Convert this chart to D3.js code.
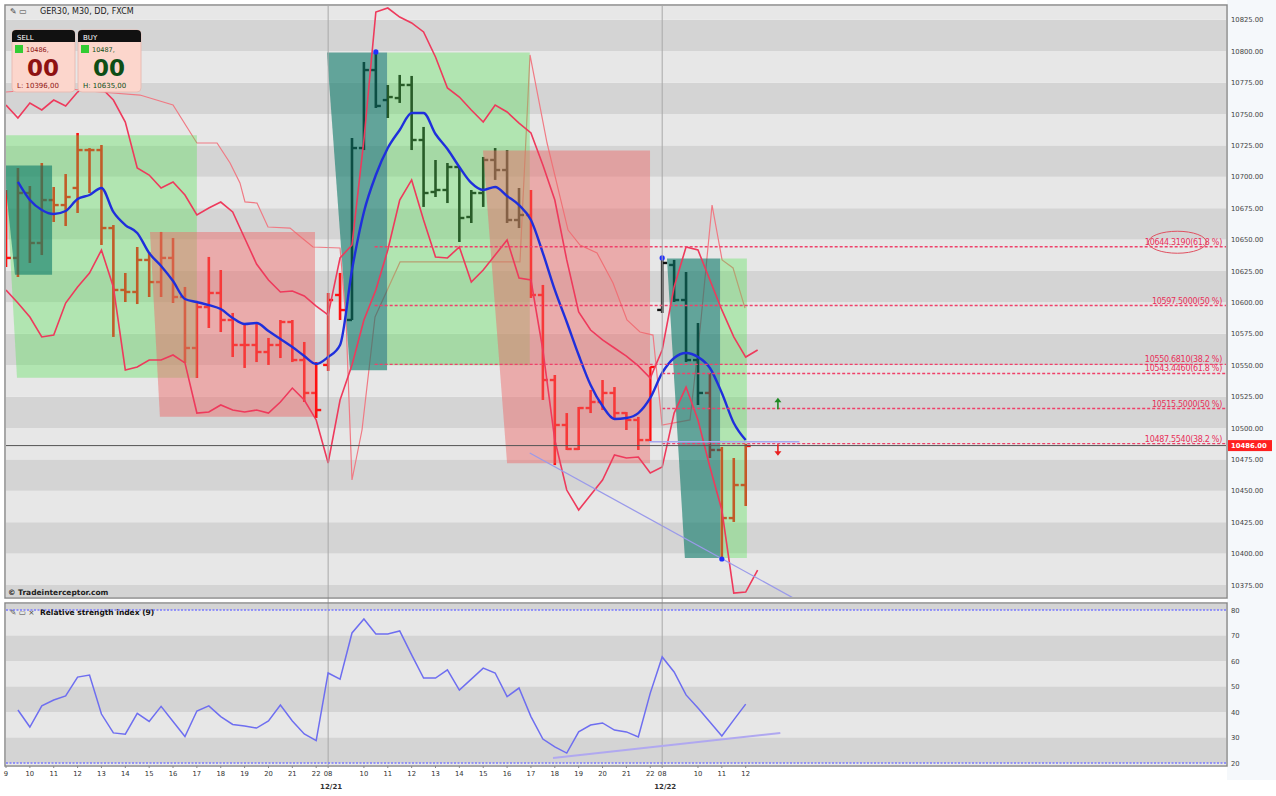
<!DOCTYPE html>
<html><head><meta charset="utf-8">
<script src="https://cdn.jsdelivr.net/npm/d3@7"></script>
<style>body{margin:0;background:#fff;} svg{display:block;font-family:"DejaVu Sans",sans-serif;}</style>
</head><body><svg id="c" width="1276" height="796"></svg>
<script>
// ---------- DATA ----------
const tickIdx   = [0,2,4,6,8,10,12,14,16,18,20,22,24,26,27,30,32,34,36,38,40,42,44,46,48,50,52,54,55,58,60,62];
const tickLabels= ["9","10","11","12","13","14","15","16","17","18","19","20","21","22","08","10","11","12","13","14","15","16","17","18","19","20","21","22","08","10","11","12"];
const dateIdx = [27,55];
const dateLabels = ["12/21","12/22"];
const priceTicks = [10375,10400,10425,10450,10475,10500,10525,10550,10575,10600,10625,10650,10675,10700,10725,10750,10775,10800,10825];
const rsiTicks = [20,30,40,50,60,70,80];

const openP  = [10653.7,10635.4,10687.1,10647.3,10681.5,10677.5,10691.1,10721.3,10721.3,10659.2,10609.9,10608.3,10633.8,10616.2,10635.4,10604.3,10563.7,10596.3,10607.5,10586.0,10566.1,10566.1,10560.5,10566.1,10584.4,10554.1,10527.9,10550.2,10605.9,10586.0,10722.9,10785.0,10761.1,10762.7,10773.1,10729.3,10687.9,10689.5,10707.8,10668.0,10687.1,10713.4,10705.4,10665.6,10669.6,10605.9,10538.2,10502.4,10483.3,10515.9,10520.7,10527.9,10511.9,10506.4,10490.4,10594.0,10629.8,10601.9,10554.1,10527.9,10482.5,10428.3,10454.6];
const highP  = [10689.5,10707.0,10692.7,10711.0,10691.9,10702.2,10734.9,10722.9,10725.3,10661.6,10623.4,10644.1,10640.1,10656.1,10651.3,10612.3,10599.5,10636.2,10625.8,10591.6,10583.6,10584.4,10571.7,10586.0,10586.0,10568.5,10552.5,10607.5,10623.4,10730.9,10791.4,10799.4,10773.1,10781.1,10780.3,10739.7,10713.4,10711.0,10707.8,10689.5,10715.8,10722.9,10721.3,10691.1,10689.5,10613.9,10542.2,10511.9,10516.7,10530.3,10538.2,10532.6,10512.7,10508.8,10548.6,10635.4,10633.8,10624.2,10583.6,10543.8,10484.9,10476.1,10487.3];
const lowP   = [10628.2,10620.2,10631.4,10637.7,10664.0,10660.8,10671.2,10687.1,10645.7,10572.5,10600.3,10598.7,10604.3,10604.3,10599.5,10551.8,10539.8,10579.6,10576.4,10556.5,10547.8,10552.5,10550.2,10555.7,10552.5,10520.7,10508.0,10545.4,10586.0,10586.0,10721.3,10754.8,10746.8,10758.8,10721.3,10676.0,10683.9,10679.1,10648.1,10663.2,10676.0,10697.5,10663.2,10659.2,10603.5,10522.3,10470.5,10482.5,10482.5,10511.9,10514.3,10506.4,10498.4,10482.5,10488.9,10591.6,10600.3,10552.5,10518.3,10476.1,10395.7,10425.2,10437.9];
const closeP = [10635.4,10687.1,10647.3,10681.5,10677.5,10683.9,10721.3,10721.3,10659.2,10609.9,10608.3,10633.8,10616.2,10635.4,10604.3,10563.7,10596.3,10607.5,10586.0,10566.1,10566.1,10560.5,10566.1,10584.4,10554.1,10527.9,10514.3,10601.9,10593.9,10722.9,10785.0,10756.4,10763.5,10773.1,10729.3,10687.1,10689.5,10707.8,10667.2,10687.1,10713.4,10705.4,10665.6,10669.6,10605.9,10538.2,10502.4,10483.3,10515.9,10520.7,10527.9,10511.9,10506.4,10490.4,10548.6,10631.4,10601.9,10554.1,10527.9,10482.5,10428.3,10454.6,10485.7];
const barTone = ["r","r","r","r","r","r","r","r","r","r","r","r","r","r","r","r","r","r","r","r","r","r","r","r","r","r","r","r","r","k","k","k","k","k","k","k","k","k","k","k","k","k","k","k","r","r","r","r","r","r","r","r","r","r","r","k","k","k","k","r","r","r","r"];

// moving average, k = 1..62
const maVals = [10695.9,10681.5,10673.6,10670.4,10672.8,10682.3,10685.5,10691.1,10672.0,10661.6,10655.3,10639.3,10629.0,10617.0,10602.7,10600.3,10597.9,10594.7,10587.6,10582.8,10583.6,10577.2,10570.9,10564.5,10557.3,10551.0,10556.5,10566.1,10625.8,10672.0,10701.4,10722.9,10737.3,10750.8,10750.8,10734.1,10722.1,10707.8,10695.1,10689.5,10691.9,10684.7,10677.5,10665.6,10639.3,10609.9,10584.4,10558.1,10534.2,10517.5,10507.2,10508.0,10511.9,10523.9,10543.8,10555.7,10559.7,10556.5,10547.8,10527.9,10504.0,10490.4];
// envelope bands, k = 0..63
const upperBand = [10757.2,10746.8,10758.8,10753.2,10761.1,10756.4,10767.5,10773.1,10770.7,10761.1,10743.6,10707.0,10701.4,10691.1,10695.9,10685.5,10669.6,10675.2,10679.9,10672.0,10651.3,10630.6,10617.8,10608.3,10609.1,10605.1,10597.1,10590.0,10635.4,10645.7,10729.3,10831.2,10834.4,10827.2,10822.5,10815.3,10795.4,10770.7,10763.5,10753.2,10743.6,10757.2,10751.6,10742.8,10734.9,10709.4,10681.5,10633.8,10592.4,10578.0,10570.1,10563.7,10557.3,10549.4,10539.8,10562.1,10612.3,10644.1,10641.7,10617.8,10594.0,10572.5,10556.5,10562.1];
const lowerBand = [10609.9,10599.5,10588.4,10572.5,10574.1,10599.5,10612.3,10623.4,10641.7,10612.3,10546.2,10548.6,10554.1,10554.1,10558.1,10551.8,10511.9,10512.7,10518.3,10514.3,10512.7,10514.3,10511.9,10520.7,10531.8,10522.3,10506.4,10472.1,10522.3,10550.2,10586.0,10609.9,10641.7,10681.5,10697.5,10665.6,10636.2,10635.4,10644.1,10616.2,10625.8,10637.7,10649.7,10619.4,10617.8,10562.1,10490.4,10450.6,10434.7,10446.7,10458.6,10478.5,10476.1,10476.9,10464.2,10468.9,10511.9,10532.6,10506.4,10468.9,10434.7,10368.6,10369.4,10386.9];
// thin lagging line (bar index, price)
const thinK = [0,4.53,7.88,11.23,14.0,16.0,17.69,18.78,19.61,20.03,21.04,21.96,23.81,24.81,25.73,28.0,28.5,29.0,29.84,30.93,33.03,43.08,43.92,45.35,47.11,48.11,49.54,50.88,52.05,53.14,54.23,54.99,57.33,58.17,59.18,60.02,60.94,61.94];
const thinP = [10767.5,10770.7,10767.5,10765.1,10757.2,10726.9,10726.9,10711.0,10695.1,10680.0,10679.1,10660.0,10659.2,10651.3,10644.1,10643.3,10586.0,10458.6,10498.4,10588.4,10632.2,10632.2,10797.0,10726.9,10657.6,10645.7,10639.3,10615.4,10586.0,10576.4,10574.0,10502.4,10506.4,10578.0,10677.5,10633.8,10627.4,10595.5];
// RSI(9), k = 1..62
const rsiVals = [40.8,34.1,42.4,44.7,46.3,53.7,54.5,39.2,31.8,31.3,39.5,36.3,42.2,36.3,30.4,40.4,42.4,38.2,35.1,34.5,33.7,36.5,42.7,36.5,31.4,28.8,55.3,52.9,71,76.5,70.6,70.6,71.8,62.4,53.3,53.3,56.5,48.6,52.9,57.2,55.3,46,49.4,38.2,29.4,26.3,23.9,32.2,34.9,35.7,32.9,32.2,30.2,47.4,61.6,55.7,46.7,41.6,36.1,30.6,36.9,43.1];
// zones
const zoneType = ["green","green","green","teal","teal","teal","red","red"];
const zoneK0 = [-0.2,31.94,59.85,-0.2,26.9,55.4,12.07,39.98];
const zoneK1 = [16.0,43.9,62.1,3.86,31.94,59.85,25.9,53.98];
const zoneKB = [0.92,31.94,59.85,0.75,28.83,56.9,12.9,42.0];
const zoneTop= [10733,10799,10635,10709,10799,10635,10656,10721];
const zoneBot= [10540,10550,10396.5,10622,10546,10396.5,10509,10472];
// fibonacci levels
const fibLevels = [10644.319,10597.5,10550.681,10543.446,10515.5,10487.554];
const fibLabels = ["10644.3190(61.8 %)","10597.5000(50 %)","10550.6810(38.2 %)","10543.4460(61.8 %)","10515.5000(50 %)","10487.5540(38.2 %)"];
const fibStartK = [30.9,30.9,30.9,55,55,55];
const lastPrice = 10486;
const dotK = [31,55,60];
const dotP = [10799.4,10635.4,10395.7];
const trendK = [43.9,66.0], trendP = [10480.1,10364.6];
const rsiTrendK = [45.85,64.9], rsiTrendV = [21.96,31.8];
const refLineK = [53.9,66.5], refLineP = 10489;
const arrowK = 64.7, arrowUpP = 10519, arrowDnP = 10483;

// ---------- LAYOUT ----------
const svg = d3.select("#c");
const L = 6, R = 1226, T = 6, B = 597, RT = 604, RB = 765;
const x = d3.scaleLinear().domain([0,62]).range([6,745.7]);
const y = d3.scaleLinear().domain([10375,10825]).range([585,19.8]);
const yr = d3.scaleLinear().domain([20,80]).range([763,610]);

svg.append("rect").attr("width",1276).attr("height",796).attr("fill","#fff");
svg.append("rect").attr("x",1227).attr("y",0).attr("width",49).attr("height",780).attr("fill","#f5f8fb");

const defs = svg.append("defs");
defs.append("clipPath").attr("id","cm").append("rect").attr("x",L).attr("y",T).attr("width",R-L).attr("height",B-T);
defs.append("clipPath").attr("id","cr").append("rect").attr("x",L).attr("y",RT).attr("width",R-L).attr("height",RB-RT);

const gm = svg.append("g").attr("clip-path","url(#cm)");
// stripes main
const stripeLv = d3.range(10350,10851,25);
stripeLv.forEach(p=>{
  const dark = (((p-10500)/25)%2+2)%2===0;
  gm.append("rect").attr("x",L).attr("width",R-L).attr("y",y(p+25)).attr("height",y(p)-y(p+25))
    .attr("fill",dark?"#d4d4d4":"#e7e7e7");
});
// separators
dateIdx.forEach(k=>{
  svg.append("line").attr("x1",x(k)).attr("x2",x(k)).attr("y1",T).attr("y2",RB).attr("stroke","#a8a8a8").attr("stroke-width",1);
});
// thin lagging line
gm.append("path").datum(thinK.map((k,i)=>[k,thinP[i]]))
  .attr("d",d3.line().x(d=>x(d[0])).y(d=>y(d[1])))
  .attr("fill","none").attr("stroke","#f07a84").attr("stroke-width",1.2);
// bars
const bars = gm.append("g");
openP.forEach((o,k)=>{
  const c = barTone[k]==="r" ? "#ff1010" : "#111";
  const xx = x(k);
  bars.append("line").attr("x1",xx).attr("x2",xx).attr("y1",y(highP[k])).attr("y2",y(lowP[k])).attr("stroke",c).attr("stroke-width",2.6);
  bars.append("line").attr("x1",xx-5).attr("x2",xx).attr("y1",y(o)).attr("y2",y(o)).attr("stroke",c).attr("stroke-width",2.4);
  bars.append("line").attr("x1",xx).attr("x2",xx+5).attr("y1",y(closeP[k])).attr("y2",y(closeP[k])).attr("stroke",c).attr("stroke-width",2.4);
});
// zones
const zoneFill = {green:["#54e254",0.36],teal:["#0a7868",0.6],red:["#ee6969",0.47]};
zoneType.forEach((t,i)=>{
  const pts = [[x(zoneK0[i]),y(zoneTop[i])],[x(zoneK1[i]),y(zoneTop[i])],[x(zoneK1[i]),y(zoneBot[i])],[x(zoneKB[i]),y(zoneBot[i])]];
  gm.append("path").attr("d","M"+pts.join("L")+"Z").attr("fill",zoneFill[t][0]).attr("fill-opacity",zoneFill[t][1]);
});
// bands
const bandLine = d3.line().x((d,i)=>x(i)).y(d=>y(d));
gm.append("path").datum(upperBand).attr("d",bandLine).attr("fill","none").attr("stroke","#ee3a5c").attr("stroke-width",1.6);
gm.append("path").datum(lowerBand).attr("d",bandLine).attr("fill","none").attr("stroke","#ee3a5c").attr("stroke-width",1.6);
// MA
gm.append("path").datum(maVals).attr("d",d3.line().x((d,i)=>x(i+1)).y(d=>y(d)).curve(d3.curveMonotoneX))
  .attr("fill","none").attr("stroke","#1f2fdc").attr("stroke-width",2.4);
// current price line
gm.append("line").attr("x1",L).attr("x2",R).attr("y1",y(lastPrice)).attr("y2",y(lastPrice)).attr("stroke","#555").attr("stroke-width",1);
// lavender reference
gm.append("line").attr("x1",x(refLineK[0])).attr("x2",x(refLineK[1])).attr("y1",y(refLineP)).attr("y2",y(refLineP)).attr("stroke","#a8a8f0").attr("stroke-width",1.5);
// trend line
gm.append("line").attr("x1",x(trendK[0])).attr("x2",x(trendK[1])).attr("y1",y(trendP[0])).attr("y2",y(trendP[1])).attr("stroke","#9a9aea").attr("stroke-width",1.3);
// fib lines
fibLevels.forEach((p,i)=>{
  gm.append("line").attr("x1",x(fibStartK[i])).attr("x2",R).attr("y1",y(p)).attr("y2",y(p))
    .attr("stroke","#f0406a").attr("stroke-width",1.4).attr("stroke-dasharray","3,2");
  const t = gm.append("text").attr("x",1222).attr("y",y(p)-2).attr("text-anchor","end")
    .attr("font-size",8).attr("fill","#e8305a").attr("letter-spacing",-0.3).text(fibLabels[i]);
  if(i===0){
    const bb = t.node().getBBox();
    gm.append("ellipse").attr("cx",bb.x+bb.width*0.42).attr("cy",bb.y+bb.height/2).attr("rx",29).attr("ry",11)
      .attr("fill","none").attr("stroke","#e05060").attr("stroke-width",1);
  }
});
// dots
dotK.forEach((k,i)=>gm.append("circle").attr("cx",x(k)).attr("cy",y(dotP[i])).attr("r",2.6).attr("fill","#2030ff"));
// arrows
function arrow(px,py,dir,col){
  const g = gm.append("g").attr("transform",`translate(${px},${py})`);
  g.append("line").attr("x1",0).attr("x2",0).attr("y1",-5*dir).attr("y2",5*dir).attr("stroke",col).attr("stroke-width",1.6);
  g.append("path").attr("d",`M-3.5,${-2*dir}L0,${-6.5*dir}L3.5,${-2*dir}Z`).attr("fill",col);
}
arrow(x(arrowK),y(arrowUpP),1,"#1d8a22");
arrow(x(arrowK),y(arrowDnP),-1,"#e82020");

// title & watermark
svg.append("text").attr("x",10).attr("y",14).attr("font-size",8).attr("fill","#444").text("✎ ▭");
svg.append("text").attr("x",40).attr("y",14).attr("font-size",8).attr("fill","#222").text("GER30, M30, DD, FXCM");
svg.append("text").attr("x",8).attr("y",595).attr("font-size",7.5).attr("font-weight","bold").attr("fill","#222").text("© Tradeinterceptor.com");

// buy/sell widget
function widget(x0,title,small,big,bigCol,foot){
  const g = svg.append("g");
  g.append("rect").attr("x",x0).attr("y",30).attr("width",63).attr("height",62).attr("rx",4).attr("fill","#fcd6cc").attr("stroke","#e8bcb4");
  g.append("path").attr("d",`M${x0},42V34a4,4 0 0 1 4,-4H${x0+59}a4,4 0 0 1 4,4V42Z`).attr("fill","#111");
  g.append("text").attr("x",x0+5).attr("y",39.5).attr("font-size",7).attr("fill","#fff").text(title);
  g.append("rect").attr("x",x0+3).attr("y",45).attr("width",8).attr("height",8).attr("fill","#33cc33");
  g.append("text").attr("x",x0+14).attr("y",51.5).attr("font-size",6.5).attr("fill",bigCol).text(small);
  g.append("text").attr("x",x0+31).attr("y",76).attr("text-anchor","middle").attr("font-size",23).attr("font-weight","bold").attr("fill",bigCol).text(big);
  g.append("text").attr("x",x0+5).attr("y",88).attr("font-size",7).attr("fill",bigCol).text(foot);
}
widget(12,"SELL","10486,","00","#8e1212","L: 10396,00");
widget(78,"BUY","10487,","00","#0e4e16","H: 10635,00");

// main borders
svg.append("rect").attr("x",5).attr("y",5).attr("width",1222).attr("height",593).attr("fill","none").attr("stroke","#8a8a8a").attr("stroke-width",1.5);

// right price axis
priceTicks.forEach(p=>{
  svg.append("text").attr("x",1231).attr("y",y(p)+2.5).attr("font-size",6.8).attr("fill","#444").text(d3.format(".2f")(p));
});
svg.append("rect").attr("x",1228).attr("y",y(lastPrice)-5.5).attr("width",44).attr("height",11).attr("fill","#ff2020");
svg.append("text").attr("x",1231).attr("y",y(lastPrice)+2.5).attr("font-size",6.8).attr("font-weight","bold").attr("fill","#fff").text(d3.format(".2f")(lastPrice));

// ---------- RSI PANEL ----------
const gr = svg.append("g").attr("clip-path","url(#cr)");
gr.append("rect").attr("x",L).attr("y",RT).attr("width",R-L).attr("height",RB-RT).attr("fill","#e7e7e7");
d3.range(0,100,10).forEach(v=>{
  const dark = (v/10)%2===0;
  gr.append("rect").attr("x",L).attr("width",R-L).attr("y",yr(v+10)).attr("height",yr(v)-yr(v+10)).attr("fill",dark?"#d4d4d4":"#e7e7e7");
});
dateIdx.forEach(k=>gr.append("line").attr("x1",x(k)).attr("x2",x(k)).attr("y1",RT).attr("y2",RB).attr("stroke","#a8a8a8"));
[20,80].forEach(v=>gr.append("line").attr("x1",L).attr("x2",R).attr("y1",yr(v)).attr("y2",yr(v)).attr("stroke","#7a7aff").attr("stroke-width",1.6).attr("stroke-dasharray","2,1.5"));
gr.append("line").attr("x1",x(rsiTrendK[0])).attr("x2",x(rsiTrendK[1])).attr("y1",yr(rsiTrendV[0])).attr("y2",yr(rsiTrendV[1])).attr("stroke","#b0a8f0").attr("stroke-width",2);
gr.append("path").datum(rsiVals).attr("d",d3.line().x((d,i)=>x(i+1)).y(d=>yr(d)))
  .attr("fill","none").attr("stroke","#6e6ef0").attr("stroke-width",1.5);
svg.append("text").attr("x",10).attr("y",615).attr("font-size",7.5).attr("fill","#444").text("✎ ▭ ×");
svg.append("text").attr("x",40).attr("y",615).attr("font-size",7.5).attr("font-weight","bold").attr("fill","#111").text("Relative strength index (9)");
svg.append("rect").attr("x",5).attr("y",603).attr("width",1222).attr("height",163).attr("fill","none").attr("stroke","#8a8a8a").attr("stroke-width",1.5);
rsiTicks.forEach(v=>svg.append("text").attr("x",1231).attr("y",yr(v)+2.5).attr("font-size",6.8).attr("fill","#444").text(v));

// x axis
tickIdx.forEach((k,i)=>{
  svg.append("line").attr("x1",x(k)).attr("x2",x(k)).attr("y1",766).attr("y2",768).attr("stroke","#888");
  svg.append("text").attr("x",x(k)).attr("y",776).attr("text-anchor","middle").attr("font-size",6.8).attr("fill","#333").text(tickLabels[i]);
});
dateIdx.forEach((k,i)=>svg.append("text").attr("x",x(k)+3).attr("y",789).attr("text-anchor","middle").attr("font-size",7).attr("font-weight","bold").attr("fill","#333").text(dateLabels[i]));
</script></body></html>
